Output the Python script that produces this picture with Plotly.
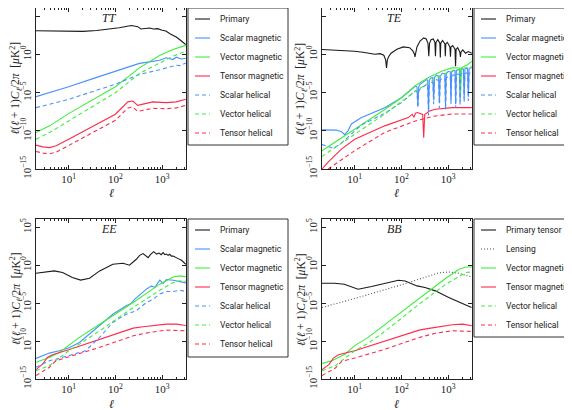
import plotly.graph_objects as go

# ---------------- DATA ----------------
# TT panel
tt_primary_l = [2, 4, 10, 20, 40, 70, 120, 220, 300, 350, 420, 540, 650, 800, 1000, 1200, 1500, 2000, 2500, 3200]
tt_primary = [1.3e3, 1.2e3, 1.1e3, 1.1e3, 1.4e3, 2.0e3, 3.2e3, 6.5e3, 4.5e3, 2.2e3, 2.6e3, 3.0e3, 2.2e3, 2.5e3, 1.5e3, 1.2e3, 5e2, 2e2, 7e1, 2e1]
tt_sm_l = [2, 3.9, 10, 33, 100, 326, 536, 880, 1220, 1700, 2000, 2550, 3200]
tt_sm = [3e-6, 1e-5, 6e-5, 7e-4, 6e-3, 7e-2, 1.1e-1, 1.8e-1, 3.7e-1, 2.2e-1, 4.5e-1, 2.6e-1, 3.3e-1]
tt_sh_l = [2, 10, 100, 326, 880, 1420, 2000, 2500, 3200]
tt_sh = [1.1e-7, 1.35e-6, 1.3e-4, 2.5e-3, 1e-2, 2.2e-2, 4e-2, 3.5e-2, 8e-2]
tt_vm_l = [2, 3.9, 10, 100, 326, 880, 1700, 3200]
tt_vm = [6e-11, 4.5e-10, 1.8e-8, 6e-5, 1.8e-2, 7.4e-1, 4.5, 1.6e1]
tt_vh_l = [2, 3.9, 10, 100, 326, 880, 1700, 3200]
tt_vh = [8e-12, 6e-11, 2e-9, 1e-5, 3.3e-3, 8e-2, 6e-1, 2.7]
tt_tm_l = [2, 2.8, 3.9, 5.4, 10, 33, 100, 184, 235, 300, 450, 630, 1220, 2000, 3200]
tt_tm = [1.35e-12, 8e-13, 6.3e-13, 1.1e-12, 8e-12, 4.5e-10, 1.5e-8, 6.3e-7, 8e-7, 2.2e-7, 4e-7, 6.3e-7, 5e-7, 6.3e-7, 1.35e-6]
tt_th_l = [2, 2.8, 3.9, 5.4, 10, 33, 100, 184, 235, 300, 450, 630, 1220, 2000, 3200]
tt_th = [2e-13, 1.2e-13, 1e-13, 1.6e-13, 1.2e-12, 7e-11, 2.4e-9, 1e-7, 1.3e-7, 3.5e-8, 6e-8, 9e-8, 8e-8, 1e-7, 2.2e-7]

# TE panel (absolute values)
te_primary_l = [2, 5, 10, 15, 20, 27, 35, 42, 46, 48, 50, 54, 60, 80, 110, 150, 175, 190, 195, 200, 215, 250, 300,
                340, 370, 385, 400, 430, 480, 520, 535, 550, 600, 665, 680, 695, 760, 850, 870, 890, 960, 1090, 1120,
                1150, 1250, 1400, 1440, 1480, 1600, 1780, 1830, 1880, 2050, 2350, 2700, 3200]
te_primary = [4.5, 3.7, 2.7, 2.0, 1.6, 1.1, 1.3, 0.8, 0.2, 0.018, 0.2, 0.6, 1.5, 5, 10, 8, 3, 1.2, 0.5, 1.5, 10, 60, 150,
              110, 30, 0.6, 30, 90, 110, 40, 0.6, 40, 90, 30, 0.4, 30, 70, 25, 0.6, 25, 40, 10, 0.5,
              10, 15, 5, 0.03, 5, 8, 2, 0.5, 2, 4, 1.5, 2.5, 1.5]
te_sm_l = [2, 4, 5.2, 6.1, 7.2, 8.5, 14, 44, 100, 200, 215, 225, 235, 250, 350, 365, 380, 395, 420, 470, 490, 510, 560,
           625, 650, 675, 750, 850, 880, 910, 1000, 1110, 1150, 1190, 1300, 1400, 1450, 1500, 1600, 1740, 1800, 1860,
           2000, 2120, 2200, 2280, 2450, 2600, 2700, 2800, 2950, 3200]
te_sm = [1.35e-10, 1.26e-10, 8e-11, 3.2e-11, 1e-10, 8e-10, 5.5e-9, 1.1e-7, 2.2e-6, 7.4e-5, 6e-5, 2e-7, 6e-5, 1.26e-4,
         5.5e-4, 4e-4, 5e-8, 4e-4, 8e-4, 1e-3, 1.26e-6, 1e-3, 2e-3, 1.5e-3, 5e-7, 1.5e-3, 3.5e-3, 3e-3, 2e-7, 3e-3,
         6.3e-3, 5e-3, 1.26e-6, 5e-3, 9e-3, 8e-3, 3e-7, 8e-3, 1.1e-2, 1e-2, 8e-7, 1e-2, 1.4e-2, 1.2e-2, 2e-6, 1.2e-2,
         1.6e-2, 1.4e-2, 3e-6, 1.4e-2, 1.8e-2, 1.8e-2]
te_sh_l = [2, 2.6, 3.5, 5, 8, 14, 44, 100, 200, 215, 225, 235, 250, 350, 365, 380, 395, 420, 470, 490, 510, 560, 625,
           650, 675, 750, 850, 880, 910, 1000, 1110, 1150, 1190, 1300, 1400, 1450, 1500, 1600, 1740, 1800, 1860, 2000,
           2120, 2200, 2280, 2450, 2600, 2700, 2800, 2950, 3200]
te_sh = [1.6e-12, 1e-12, 5e-13, 2e-12, 3e-11, 6e-10, 2e-8, 5e-7, 1.8e-5, 1.5e-5, 1e-7, 1.5e-5, 3e-5, 1.2e-4, 1e-4, 1e-8,
         1e-4, 2e-4, 2.5e-4, 3e-7, 2.5e-4, 5e-4, 4e-4, 1e-7, 4e-4, 9e-4, 8e-4, 5e-8, 8e-4, 1.5e-3, 1.3e-3, 3e-7, 1.3e-3,
         2.2e-3, 2e-3, 1e-7, 2e-3, 2.8e-3, 2.5e-3, 2e-7, 2.5e-3, 3.5e-3, 3e-3, 5e-7, 3e-3, 4e-3, 3.5e-3, 8e-7, 3.5e-3,
         4.5e-3, 4.5e-3]
te_vm_l = [2, 3.8, 10, 44, 100, 200, 380, 740, 1220, 1570, 1780, 1850, 1920, 2650, 3200]
te_vm = [2.5e-13, 3.2e-12, 1.6e-10, 6.3e-8, 2.2e-6, 9e-5, 1e-3, 6.8e-3, 1.8e-2, 1.8e-2, 1.7e-2, 1e-5, 1.8e-2, 5e-2, 1.35e-1]
te_vh_l = [2, 10, 44, 200, 740, 1220, 3200]
te_vh = [4.5e-14, 4e-11, 1.6e-8, 1.6e-5, 2.5e-3, 6.8e-3, 3e-2]
te_tm_l = [2, 2.7, 5.2, 10, 44, 140, 170, 185, 200, 220, 285, 300, 315, 400, 530, 1220, 3200]
te_tm = [1e-15, 8e-15, 4e-13, 8e-12, 4.5e-10, 5.5e-9, 1.5e-8, 6e-9, 2e-8, 2.5e-8, 1.4e-8, 1.3e-11, 1.4e-8, 4e-8, 6.8e-8, 1.1e-7, 1.1e-7]
te_th_l = [2.7, 3.8, 10, 44, 200, 530, 1220, 3200]
te_th = [1e-15, 4.5e-15, 2.5e-13, 6.3e-11, 2e-9, 9e-9, 1.6e-8, 1.6e-8]

# EE panel
ee_primary_l = [2, 3.25, 4.9, 7.4, 12, 18, 28, 46, 88, 145, 200, 280, 330, 390, 450, 500, 560, 660, 760, 860, 950,
                1050, 1140, 1230, 1340, 1450, 1580, 1720, 2200, 2600, 3200]
ee_primary = [0.089, 0.13, 0.18, 0.11, 0.024, 0.011, 0.019, 0.18, 1.35, 1.8, 1.0, 6.2, 20, 35, 18, 10, 25, 63, 30, 40, 25,
              46, 25, 30, 20, 28, 16, 16, 7.5, 4.5, 1.35]
ee_sm_l = [2, 3.85, 6.3, 10, 17, 33, 88, 170, 220, 260, 460, 590, 700, 890, 1050, 1230, 1720, 2400, 3200]
ee_sm = [5.2e-13, 2.6e-12, 5.4e-12, 1.2e-11, 6.6e-11, 1.9e-9, 3.5e-7, 4.5e-6, 1e-5, 3.4e-5, 7e-4, 1.9e-3, 1.2e-3, 1.07e-2, 4e-3, 1.3e-2, 1.07e-2, 7e-3, 4.8e-3]
ee_sh_l = [2, 3.85, 10, 23, 46, 88, 170, 280, 460, 640, 890, 1230, 1720, 2400, 3200]
ee_sh = [3.5e-14, 2.5e-13, 1.2e-12, 5.4e-12, 3.1e-10, 2.9e-8, 3.5e-7, 1e-6, 1.25e-5, 3.4e-5, 1.6e-4, 3.5e-4, 3.5e-4, 5e-4, 3.5e-4]
ee_vm_l = [2, 3.85, 6.3, 10, 17, 46, 240, 890, 1720, 2400, 3200]
ee_vm = [1.6e-13, 7e-13, 3.2e-12, 2.5e-11, 3.1e-10, 1.7e-8, 1.25e-5, 3.2e-3, 2.9e-2, 4e-2, 3.2e-2]
ee_vh_l = [2, 3.85, 10, 17, 46, 240, 890, 1720, 2400, 3200]
ee_vh = [1.26e-14, 5.6e-14, 5.4e-12, 4e-11, 2.3e-9, 2.7e-6, 5e-4, 5.2e-3, 8.7e-3, 7.5e-3]
ee_tm_l = [2, 2.8, 3.5, 4.5, 10, 46, 240, 390, 1230, 2030, 3200]
ee_tm = [1.7e-14, 1e-13, 7e-13, 1.6e-12, 7.2e-12, 1.8e-10, 5.1e-9, 7.7e-9, 1.7e-8, 1.7e-8, 1.15e-8]
ee_th_l = [2, 3.85, 5.3, 10, 46, 240, 540, 1230, 3200]
ee_th = [2.8e-15, 3.5e-14, 2.5e-13, 8.7e-13, 1.5e-11, 5e-10, 1.4e-9, 2.8e-9, 2.3e-9]

# BB panel
bb_primary_l = [2, 3.7, 6, 11.8, 23, 44, 86, 120, 167, 215, 320, 530, 1030, 2000, 3160]
bb_primary = [4.3e-3, 4.3e-3, 3.2e-3, 7e-4, 1.6e-3, 3.9e-3, 1.07e-2, 8.6e-3, 3.9e-3, 1.9e-3, 1.15e-3, 4.2e-4, 5.6e-5, 9e-6, 2.7e-6]
bb_lens_l = [2, 10, 100, 320, 630, 1030, 1700, 3160]
bb_lens = [2.7e-6, 4.1e-5, 2.6e-3, 2.9e-2, 0.1, 0.13, 0.089, 2.9e-2]
bb_vm_l = [2, 3.25, 6.3, 10, 19.4, 46, 240, 890, 1720, 2400, 3200]
bb_vm = [1.15e-13, 2.5e-13, 2e-12, 2.5e-11, 3.1e-10, 1.7e-8, 3.4e-5, 1.9e-2, 0.3, 0.6, 0.6]
bb_vh_l = [2, 3.85, 10, 19.4, 46, 240, 890, 1720, 2400, 3200]
bb_vh = [1.26e-14, 5.6e-14, 5.4e-12, 5e-11, 2.3e-9, 7.4e-6, 3.2e-3, 4e-2, 0.11, 0.13]
bb_tm_l = [2, 2.8, 3.5, 4.5, 10, 46, 240, 390, 1230, 2030, 3200]
bb_tm = [1.7e-14, 8e-14, 5.7e-13, 1.6e-12, 5.4e-12, 1.1e-10, 2.8e-9, 4.7e-9, 1.4e-8, 1.7e-8, 1.05e-8]
bb_th_l = [2, 3.85, 5.3, 10, 46, 240, 540, 1230, 3200]
bb_th = [2.8e-15, 2.8e-14, 2.2e-13, 5.8e-13, 8.9e-12, 3e-10, 1.1e-9, 2.3e-9, 1.9e-9]

panel_titles = ["TT", "TE", "EE", "BB"]
y_tickvals = [1e-15, 1e-10, 1e-5, 1e0, 1e5]
y_ticktext = ["10<sup>−15</sup>", "10<sup>−10</sup>", "10<sup>−5</sup>", "10<sup>0</sup>", "10<sup>5</sup>"]
x_tickvals = [10, 100, 1000]
x_ticktext = ["10<sup>1</sup>", "10<sup>2</sup>", "10<sup>3</sup>"]
x_minor = [2, 3, 4, 5, 6, 7, 8, 9, 20, 30, 40, 50, 60, 70, 80, 90,
           200, 300, 400, 500, 600, 700, 800, 900, 2000, 3000]

# ---------------- STYLE ----------------
BLACK = "#1a1a1a"
BLUE = "#4a90ff"
GREEN = "#3cef3c"
RED = "#ff2a4a"
DASH = "4px,3px"
DOT = "1px,2px"
W = 1.1

W_PX, H_PX = 572, 410
OFF = 8  # page body margin


def fx(px):
    return (px - OFF) / W_PX


def fy(py):
    return 1 - (py - OFF) / H_PX


x_doms = [(fx(36), fx(186)), (fx(322), fx(472))]
y_doms = [(fy(169), fy(8)), (fy(379), fy(219))]

fig = go.Figure()

panels = [
    ("x", "y", [
        ("Primary", tt_primary_l, tt_primary, BLACK, "solid"),
        ("Scalar magnetic", tt_sm_l, tt_sm, BLUE, "solid"),
        ("Vector magnetic", tt_vm_l, tt_vm, GREEN, "solid"),
        ("Tensor magnetic", tt_tm_l, tt_tm, RED, "solid"),
        ("Scalar helical", tt_sh_l, tt_sh, BLUE, DASH),
        ("Vector helical", tt_vh_l, tt_vh, GREEN, DASH),
        ("Tensor helical", tt_th_l, tt_th, RED, DASH),
    ]),
    ("x2", "y2", [
        ("Primary", te_primary_l, te_primary, BLACK, "solid"),
        ("Scalar magnetic", te_sm_l, te_sm, BLUE, "solid"),
        ("Vector magnetic", te_vm_l, te_vm, GREEN, "solid"),
        ("Tensor magnetic", te_tm_l, te_tm, RED, "solid"),
        ("Scalar helical", te_sh_l, te_sh, BLUE, DASH),
        ("Vector helical", te_vh_l, te_vh, GREEN, DASH),
        ("Tensor helical", te_th_l, te_th, RED, DASH),
    ]),
    ("x3", "y3", [
        ("Primary", ee_primary_l, ee_primary, BLACK, "solid"),
        ("Scalar magnetic", ee_sm_l, ee_sm, BLUE, "solid"),
        ("Vector magnetic", ee_vm_l, ee_vm, GREEN, "solid"),
        ("Tensor magnetic", ee_tm_l, ee_tm, RED, "solid"),
        ("Scalar helical", ee_sh_l, ee_sh, BLUE, DASH),
        ("Vector helical", ee_vh_l, ee_vh, GREEN, DASH),
        ("Tensor helical", ee_th_l, ee_th, RED, DASH),
    ]),
    ("x4", "y4", [
        ("Primary tensor", bb_primary_l, bb_primary, BLACK, "solid"),
        ("Lensing", bb_lens_l, bb_lens, "#555555", DOT),
        ("Vector magnetic", bb_vm_l, bb_vm, GREEN, "solid"),
        ("Tensor magnetic", bb_tm_l, bb_tm, RED, "solid"),
        ("Vector helical", bb_vh_l, bb_vh, GREEN, DASH),
        ("Tensor helical", bb_th_l, bb_th, RED, DASH),
    ]),
]

for xa, ya, series in panels:
    for name, lx, ly, col, dash in series:
        fig.add_trace(go.Scatter(
            x=lx, y=ly, mode="lines", name=name,
            line=dict(color=col, width=W, dash=dash),
            xaxis=xa, yaxis=ya, showlegend=False,
        ))

SERIF = "Liberation Serif, DejaVu Serif, serif"
SANS = "Roboto, Liberation Sans, Arial, sans-serif"
axis_font = dict(family=SERIF, size=11, color="#222")
layout = dict(
    width=W_PX, height=H_PX,
    margin=dict(l=0, r=0, t=0, b=0, autoexpand=False),
    paper_bgcolor="white", plot_bgcolor="white",
    showlegend=False,
)

positions = [(0, 0), (1, 0), (0, 1), (1, 1)]
suffix = ["", "2", "3", "4"]
for i, (cx, ry) in enumerate(positions):
    s = suffix[i]
    layout["xaxis" + s] = dict(
        type="log", domain=x_doms[cx], range=[0.301, 3.51],
        anchor="y" + s, showline=True, linecolor="#222", linewidth=1, mirror="allticks",
        ticks="inside", ticklen=4, tickcolor="#222", tickvals=x_tickvals, ticktext=x_ticktext,
        tickfont=axis_font, showgrid=False, zeroline=False,
        minor=dict(tickvals=x_minor, ticks="inside", ticklen=2, tickcolor="#222"),
    )
    layout["yaxis" + s] = dict(
        type="log", domain=y_doms[ry], range=[-15, 6.1],
        anchor="x" + s, showline=True, linecolor="#222", linewidth=1, mirror="allticks",
        ticks="inside", ticklen=4, tickcolor="#222", tickvals=y_tickvals, ticktext=y_ticktext,
        tickangle=-90, tickfont=axis_font, showgrid=False, zeroline=False,
    )
fig.update_layout(**layout)

shapes = []
annots = []

# manual legends (page pixel coordinates of the boxes)
legend_boxes = [(188, 8, 288, 145), (474, 8, 590, 145), (188, 219, 288, 357), (474, 219, 590, 337)]
for (xa, ya, series), (bx0, by0, bx1, by1) in zip(panels, legend_boxes):
    shapes.append(dict(type="rect", xref="paper", yref="paper",
                       x0=fx(bx0), x1=fx(bx1), y0=fy(by1), y1=fy(by0),
                       line=dict(color="#333", width=1), fillcolor="white", layer="above"))
    for k, (name, lx, ly, col, dash) in enumerate(series):
        yc = by0 + 11 + 19 * k
        shapes.append(dict(type="line", xref="paper", yref="paper",
                           x0=fx(bx0 + 7), x1=fx(bx0 + 22), y0=fy(yc), y1=fy(yc),
                           line=dict(color=col, width=W, dash=dash), layer="above"))
        annots.append(dict(text=name, x=fx(bx0 + 30), y=fy(yc), xref="paper", yref="paper",
                           xanchor="left", yanchor="middle", showarrow=False,
                           font=dict(family=SANS, size=8.5, color="#222")))

ylab = "<i>ℓ</i>(<i>ℓ</i> + 1)<i>C<sub>ℓ</sub></i>/2<i>π</i>  [<i>μ</i>K<sup>2</sup>]"
ylab_x = [16, 301]
xlab_y = [193, 404]
title_y = [18, 229]
for i, (cx, ry) in enumerate(positions):
    xd = x_doms[cx]
    yd = y_doms[ry]
    xc = (xd[0] + xd[1]) / 2
    annots.append(dict(text="<i>" + panel_titles[i] + "</i>", x=xc - 2 / W_PX, y=fy(title_y[ry]),
                       xref="paper", yref="paper", xanchor="center", yanchor="middle", showarrow=False,
                       font=dict(family=SERIF, size=12, color="#222")))
    annots.append(dict(text="<i>ℓ</i>", x=xc, y=fy(xlab_y[ry]), xref="paper", yref="paper",
                       xanchor="center", yanchor="middle", showarrow=False,
                       font=dict(family=SERIF, size=12, color="#222")))
    annots.append(dict(text=ylab, x=fx(ylab_x[cx]), y=(yd[0] + yd[1]) / 2, xref="paper", yref="paper",
                       xanchor="center", yanchor="middle", showarrow=False, textangle=-90,
                       font=dict(family=SERIF, size=11.5, color="#222")))
fig.update_layout(shapes=shapes, annotations=annots)

fig.write_html("out.html")
